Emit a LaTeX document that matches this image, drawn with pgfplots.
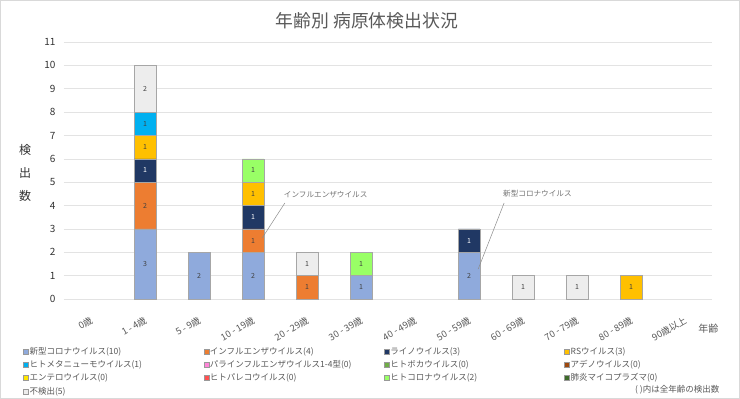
\documentclass[border=0pt]{standalone}
\usepackage{pgfplots}
\pgfplotsset{compat=1.18}
\usepackage{pgfplotstable}
\usepackage{fontspec}
\setmainfont{Noto Sans CJK JP}
\definecolor{cCov}{HTML}{8FAADC}
\definecolor{cFlu}{HTML}{ED7D31}
\definecolor{cRhino}{HTML}{203864}
\definecolor{cRS}{HTML}{FFC000}
\definecolor{cHMPV}{HTML}{00B0F0}
\definecolor{cPara}{HTML}{FF85D8}
\definecolor{cBoca}{HTML}{70AD47}
\definecolor{cAdeno}{HTML}{9E480E}
\definecolor{cEntero}{HTML}{FFE600}
\definecolor{cParecho}{HTML}{FF5050}
\definecolor{cHCoV}{HTML}{99FF66}
\definecolor{cMyco}{HTML}{3E6B2A}
\definecolor{cNeg}{HTML}{EDEDED}
\definecolor{txt}{HTML}{595959}
\definecolor{gridc}{HTML}{E3E3E3}
\pgfplotsset{sqleg/.style={legend image code/.code={\draw[##1,draw=black!40,line width=0.4pt] (0pt,-2.5pt) rectangle (5pt,2.5pt);}}}
\newcommand{\lgd}[1]{\makebox[173pt][l]{#1}}
\pgfplotstableread{
x cov flu rhino rs hmpv hcov neg
0 0 0 0 0 0 0 0
1 3 2 1 1 1 0 2
2 2 0 0 0 0 0 0
3 2 1 1 1 0 1 0
4 0 1 0 0 0 0 1
5 1 0 0 0 0 1 0
6 0 0 0 0 0 0 0
7 2 0 1 0 0 0 0
8 0 0 0 0 0 0 1
9 0 0 0 0 0 0 1
10 0 0 0 1 0 0 0
11 0 0 0 0 0 0 0
}\data
\pgfplotstableread{
x y lab
1 1.5 3
1 4 2
1 6.5 1
1 7.5 1
1 9 2
2 1 2
3 1 2
3 2.5 1
3 4.5 1
3 5.5 1
4 0.5 1
4 1.5 1
5 0.5 1
5 1.5 1
7 1 2
8 0.5 1
9 0.5 1
10 0.5 1
}\labdark
\pgfplotstableread{
x y lab
1 5.5 1
3 3.5 1
7 2.5 1
}\labwhite
\begin{document}
\begin{tikzpicture}
\useasboundingbox (-64pt,-100pt) rectangle (676pt,299pt);
\fill[white] (-64pt,-100pt) rectangle (676pt,299pt);
\draw[black!15,line width=0.6pt] (-63.6pt,-99.6pt) rectangle (675.6pt,298.6pt);
\begin{axis}[
  at={(0pt,0pt)}, anchor=south west,
  scale only axis, width=648pt, height=257pt,
  ybar stacked, bar width=21.5pt,
  xmin=-0.5, xmax=11.5, ymin=0, ymax=11,
  xtick={0,...,11},
  xticklabels={0歳,1 - 4歳,5 - 9歳,10 - 19歳,20 - 29歳,30 - 39歳,40 - 49歳,50 - 59歳,60 - 69歳,70 - 79歳,80 - 89歳,90歳以上},
  ytick={0,...,11},
  /pgf/number format/assume math mode=true,
  axis line style={draw=none},
  major tick length=0pt,
  ymajorgrids, grid style={draw=gridc, line width=0.6pt},
  xticklabel style={xshift=-1pt, yshift=-15pt, rotate=30, anchor=north east, font=\fontsize{9.3}{10}\selectfont, text=txt, inner sep=1pt},
  yticklabel style={font=\fontsize{10}{11}\selectfont, text=black!80, xshift=-5pt},
  every axis plot post/.append style={sqleg},
  legend columns=4,
  legend cell align=left,
  legend style={at={(axis description cs:-0.068,-0.176)}, anchor=north west, draw=none, fill=none,
    font=\fontsize{8.5}{9}\selectfont, text=txt, row sep=2.5pt, column sep=0pt,
    nodes={inner sep=1pt}, cells={anchor=west}},
]
\addplot[fill=cCov, draw=black!35, line width=0.5pt] table[x=x,y=cov]{\data};
\addlegendentry{\lgd{新型コロナウイルス(10)}}
\addplot[fill=cFlu, draw=black!35, line width=0.5pt] table[x=x,y=flu]{\data};
\addlegendentry{\lgd{インフルエンザウイルス(4)}}
\addplot[fill=cRhino, draw=black!35, line width=0.5pt] table[x=x,y=rhino]{\data};
\addlegendentry{\lgd{ライノウイルス(3)}}
\addplot[fill=cRS, draw=black!35, line width=0.5pt] table[x=x,y=rs]{\data};
\addlegendentry{\lgd{RSウイルス(3)}}
\addplot[fill=cHMPV, draw=black!35, line width=0.5pt] table[x=x,y=hmpv]{\data};
\addlegendentry{\lgd{ヒトメタニューモウイルス(1)}}
\addlegendimage{sqleg, fill=cPara}
\addlegendentry{\lgd{パラインフルエンザウイルス1-4型(0)}}
\addlegendimage{sqleg, fill=cBoca}
\addlegendentry{\lgd{ヒトボカウイルス(0)}}
\addlegendimage{sqleg, fill=cAdeno}
\addlegendentry{\lgd{アデノウイルス(0)}}
\addlegendimage{sqleg, fill=cEntero}
\addlegendentry{\lgd{エンテロウイルス(0)}}
\addlegendimage{sqleg, fill=cParecho}
\addlegendentry{\lgd{ヒトパレコウイルス(0)}}
\addplot[fill=cHCoV, draw=black!35, line width=0.5pt] table[x=x,y=hcov]{\data};
\addlegendentry{\lgd{ヒトコロナウイルス(2)}}
\addlegendimage{sqleg, fill=cMyco}
\addlegendentry{\lgd{肺炎マイコプラズマ(0)}}
\addplot[fill=cNeg, draw=black!35, line width=0.5pt] table[x=x,y=neg]{\data};
\addlegendentry{\lgd{不検出(5)}}
\end{axis}
\begin{axis}[
  at={(0pt,0pt)}, anchor=south west,
  scale only axis, width=648pt, height=257pt,
  xmin=-0.5, xmax=11.5, ymin=0, ymax=11,
  hide axis, clip=false,
]
\addplot[draw=none, mark=none, nodes near coords, point meta=explicit symbolic,
  every node near coord/.append style={anchor=center, font=\fontsize{7}{8}\selectfont, text=black!75, inner sep=0pt}]
  table[x=x,y=y,meta=lab]{\labdark};
\addplot[draw=none, mark=none, nodes near coords, point meta=explicit symbolic,
  every node near coord/.append style={anchor=center, font=\fontsize{7}{8}\selectfont, text=white, inner sep=0pt}]
  table[x=x,y=y,meta=lab]{\labwhite};
\draw[black!45, line width=0.5pt] (axis cs:3.59,4.11) -- (axis cs:3.17,2.61);
\node[anchor=west, font=\fontsize{7.6}{8}\selectfont, text=black!55, inner sep=0pt] at (axis cs:3.57,4.45) {インフルエンザウイルス};
\draw[black!45, line width=0.5pt] (axis cs:7.65,4.11) -- (axis cs:7.17,1.28);
\node[anchor=west, font=\fontsize{7.6}{8}\selectfont, text=black!55, inner sep=0pt] at (axis cs:7.63,4.49) {新型コロナウイルス};
\node[font=\fontsize{17.8}{19}\selectfont, text=txt] at (axis cs:5.11,11.9) {年齢別 病原体検出状況};
\node[font=\fontsize{12}{23}\selectfont, text=black!80, align=center] at (axis cs:-1.22,5.4) {検\\出\\数};
\node[font=\fontsize{10}{11}\selectfont, text=txt, anchor=west] at (axis cs:11.18,-1.27) {年齢};
\node[font=\fontsize{8.5}{9}\selectfont, text=txt, anchor=east] at (axis cs:11.7,-3.9) {( )内は全年齢の検出数};
\end{axis}
\end{tikzpicture}
\end{document}
